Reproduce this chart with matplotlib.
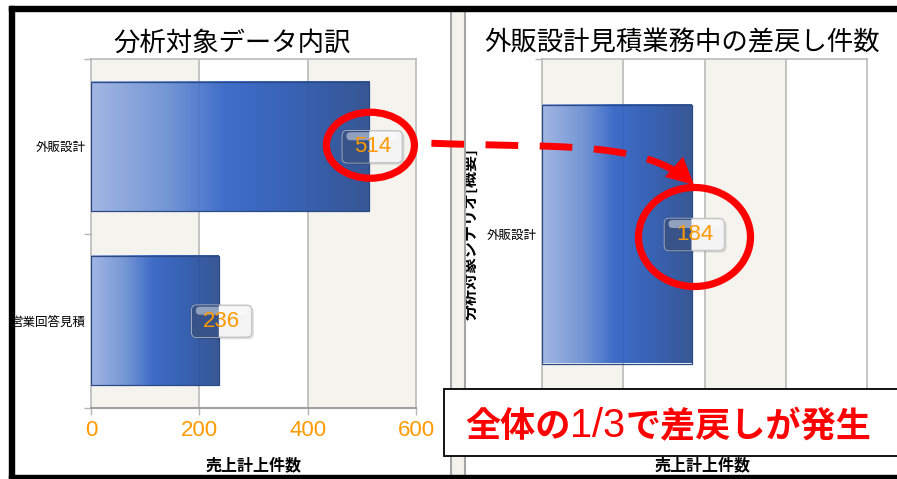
import numpy as np
import matplotlib
matplotlib.use('Agg')
import matplotlib.pyplot as plt
from matplotlib.colors import LinearSegmentedColormap
from matplotlib.patches import FancyBboxPatch, Ellipse, Rectangle, Polygon, PathPatch
from matplotlib.path import Path
from matplotlib.lines import Line2D
from matplotlib.transforms import Affine2D

plt.rcParams['font.family'] = ['Noto Sans CJK JP', 'DejaVu Sans']

# ---------------- data ----------------
left_title = '分析対象データ内訳'
left_categories = ['外販設計', '営業回答見積']
left_values = [514, 236]
left_xticks = [0, 200, 400, 600]

right_title = '外販設計見積業務中の差戻し件数'
right_categories = ['外販設計']
right_values = [184]
right_xticks = [0, 100, 200, 300, 400]

x_label = '売上計上件数'
right_y_label = '分析対象シナリオ[概要]'
callout_parts = ['全体の', '1/3', 'で差戻しが発生']

# ---------------- figure ----------------
W, H = 897, 479
fig = plt.figure(figsize=(W / 100, H / 100), dpi=100)
fig.patch.set_facecolor('white')
PIX = Affine2D().scale(1.0 / W, -1.0 / H).translate(0, 1) + fig.transFigure


def axes_px(x0, y0, x1, y1):
    return fig.add_axes([x0 / W, 1 - y1 / H, (x1 - x0) / W, (y1 - y0) / H])


BAND = '#f5f3ee'
GRID = '#b5b5b5'
ORANGE = '#ff9900'
RED = '#ff0000'
bar_cmap = LinearSegmentedColormap.from_list(
    'bar', [(0.0, '#9db3e3'), (0.28, '#6a8fd3'), (0.48, '#3364c6'),
            (0.72, '#2a58b0'), (1.0, '#2a4c8e')])
gradient = np.linspace(0, 1, 256).reshape(1, -1)


def panel(ax, cats, vals, ticks, show_xlabels=True):
    n = len(cats)
    ys = np.arange(n)
    for i in range(len(ticks) - 1):
        if i % 2 == 0:
            ax.axvspan(ticks[i], ticks[i + 1], color=BAND, lw=0, zorder=0)
    for t in ticks[1:-1]:
        ax.axvline(t, color=GRID, lw=1.1, zorder=1)
    bars = ax.barh(ys, vals, height=0.74, facecolor='none',
                   edgecolor='#2b4a86', lw=0.9, zorder=3)
    for b in bars:
        x0, y0, w, h = b.get_x(), b.get_y(), b.get_width(), b.get_height()
        ax.imshow(np.repeat(gradient, 4, axis=0), cmap=bar_cmap,
                  extent=[x0, x0 + w, y0 + h, y0],
                  aspect='auto', interpolation='nearest', alpha=0.94, zorder=2)
    ax.set_xlim(ticks[0], ticks[-1])
    ax.set_ylim(n - 0.5, -0.5)
    ax.set_xticks(ticks)
    ax.set_xticklabels([str(t) for t in ticks], color=ORANGE, fontsize=16,
                       family='Liberation Sans')
    ax.tick_params(axis='x', length=5, width=1, color=GRID, pad=4,
                   labelbottom=show_xlabels)
    ax.set_yticks(np.arange(n + 1) - 0.5)
    ax.set_yticklabels([])
    ax.tick_params(axis='y', which='major', length=5, width=1, color=GRID)
    ax.set_yticks(ys, minor=True)
    ax.set_yticklabels(cats, minor=True, fontsize=9)
    ax.tick_params(axis='y', which='minor', length=0, pad=3.6)
    for s in ax.spines.values():
        s.set_color(GRID)
        s.set_linewidth(1.1)
    ax.spines['bottom'].set_color('#a0a0a0')
    ax.spines['bottom'].set_linewidth(1.5)
    return bars


ax1 = axes_px(91, 59, 416, 408)
bars1 = panel(ax1, left_categories, left_values, left_xticks)
ax1.set_xlabel(x_label, fontsize=11.5, fontweight='bold')
ax1.xaxis.set_label_coords(0.5, (408 - 465) / 349)
ax1.xaxis.label.set_va('center')

ax2 = axes_px(542, 59, 867, 409)
bars2 = panel(ax2, right_categories, right_values, right_xticks, show_xlabels=False)
ax2.set_xlabel(x_label, fontsize=11.5, fontweight='bold')
ax2.xaxis.set_label_coords((703 - 542) / 325, (409 - 465) / 350)
ax2.xaxis.label.set_va('center')
ax2.set_ylabel(right_y_label, fontsize=11.5, fontweight='bold')
ax2.yaxis.set_label_coords((471 - 542) / 325, 0.5)
ax2.yaxis.label.set_va('center')

fig.text(232 / W, 1 - 43 / H, left_title, ha='center', va='center', fontsize=19)
fig.text(682 / W, 1 - 43 / H, right_title, ha='center', va='center', fontsize=19)

# ---------------- frame & divider ----------------
fig.add_artist(Rectangle((450.5, 9), 14, 472, transform=PIX, facecolor='#f4f2ed',
                         edgecolor='#a5a5a5', lw=1.5, zorder=1))
fig.add_artist(Rectangle((9, 6), W, 4.5, transform=PIX, color='black', zorder=20))
fig.add_artist(Rectangle((9, 6), 5, 480, transform=PIX, color='black', zorder=20))
fig.add_artist(Rectangle((9, 475.5), W, 5, transform=PIX, color='black', zorder=20))


def data_px(ax, x, y):
    d = ax.transData.transform((x, y))
    return d[0], H - d[1]


def value_label(ax, bar, value):
    end_x, mid_y = data_px(ax, bar.get_x() + bar.get_width(),
                           bar.get_y() + bar.get_height() / 2)
    cx, cy = end_x + 3, mid_y + 0.5
    bw, bh = 60, 32
    x0, y0 = cx - bw / 2, cy - bh / 2
    style = 'round,pad=0,rounding_size=5'
    fig.add_artist(FancyBboxPatch((x0 + 2, y0 + 2), bw, bh, transform=PIX, boxstyle=style,
                                  facecolor='#000000', alpha=0.12, lw=0, zorder=9))
    fig.add_artist(FancyBboxPatch((x0, y0), bw, bh, transform=PIX, boxstyle=style,
                                  facecolor='#f3f3f3', edgecolor='#c4c4c4', lw=1, zorder=10))
    # dark part where the box overlaps the bar
    shape = FancyBboxPatch((x0, y0), bw, bh, boxstyle=style).get_path()
    verts = shape.vertices.copy()
    verts[:, 0] = np.minimum(verts[:, 0], end_x)
    fig.add_artist(PathPatch(Path(verts, shape.codes), transform=PIX,
                             facecolor='#27457f', lw=0, alpha=0.92, zorder=11))
    fig.add_artist(FancyBboxPatch((x0 + 4, y0 + 1.5), bw - 8, 8, transform=PIX,
                                  boxstyle='round,pad=0,rounding_size=4',
                                  facecolor='white', alpha=0.45, lw=0, zorder=12))
    fig.text(cx / W, 1 - cy / H, str(value), ha='center', va='center', color=ORANGE,
             fontsize=16, family='Liberation Sans', zorder=13)
    return cx, cy


lab1 = [value_label(ax1, b, v) for b, v in zip(bars1, left_values)]
lab2 = [value_label(ax2, b, v) for b, v in zip(bars2, right_values)]

# ---------------- red highlight ellipses ----------------
e1x, e1y = lab1[0][0] - 2, lab1[0][1] - 1.5
e1w, e1h = 88, 66
e2x, e2y = lab2[0][0] + 0, lab2[0][1] + 2.5
e2w, e2h = 112, 99
for (ex, ey, ew, eh) in [(e1x, e1y, e1w, e1h), (e2x, e2y, e2w, e2h)]:
    fig.add_artist(Ellipse((ex, ey), ew, eh, transform=PIX, facecolor='none',
                           edgecolor=RED, lw=5.2, zorder=14))

# ---------------- dashed curved arrow ----------------
S = np.array([e1x + e1w / 2 + 17, e1y - 2])
E = np.array([e2x - 1, e2y - e2h / 2 - 3])
C1 = S + np.array([130, 5])
C2 = E - np.array([50, 45])
t = np.linspace(0, 1, 400)[:, None]
curve = ((1 - t) ** 3) * S + 3 * ((1 - t) ** 2) * t * C1 + 3 * (1 - t) * t ** 2 * C2 + t ** 3 * E
seg = np.hypot(*np.diff(curve, axis=0).T)
arc = np.concatenate([[0], np.cumsum(seg)])
head_len = 26
keep = arc <= arc[-1] - head_len + 4
fig.add_artist(Line2D(curve[keep, 0], curve[keep, 1], transform=PIX, color=RED,
                      lw=5, dashes=(4.7, 3.1), solid_capstyle='butt', zorder=14))
u = (E - C2) / np.hypot(*(E - C2))
nrm = np.array([-u[1], u[0]])
base = E - head_len * u
fig.add_artist(Polygon([E, base + 13 * nrm, base - 13 * nrm], closed=True,
                       transform=PIX, facecolor=RED, edgecolor=RED, lw=0.5, zorder=14))

# ---------------- callout box ----------------
fig.add_artist(Rectangle((444, 389), 480, 67, transform=PIX, facecolor='white',
                         edgecolor='black', lw=1.3, zorder=15))
renderer = fig.canvas.get_renderer()
x_cur = 465
baseline = 437
styles = [dict(fontsize=25.3, fontweight='bold'),
          dict(fontsize=28.5, fontweight='normal', family='Liberation Sans'),
          dict(fontsize=25.3, fontweight='bold')]
for part, st in zip(callout_parts, styles):
    tx = fig.text(x_cur / W, 1 - baseline / H, part, color=RED, ha='left',
                  va='baseline', zorder=16, **st)
    bb = tx.get_window_extent(renderer)
    x_cur += bb.width

fig.savefig('out.png', dpi=100)
